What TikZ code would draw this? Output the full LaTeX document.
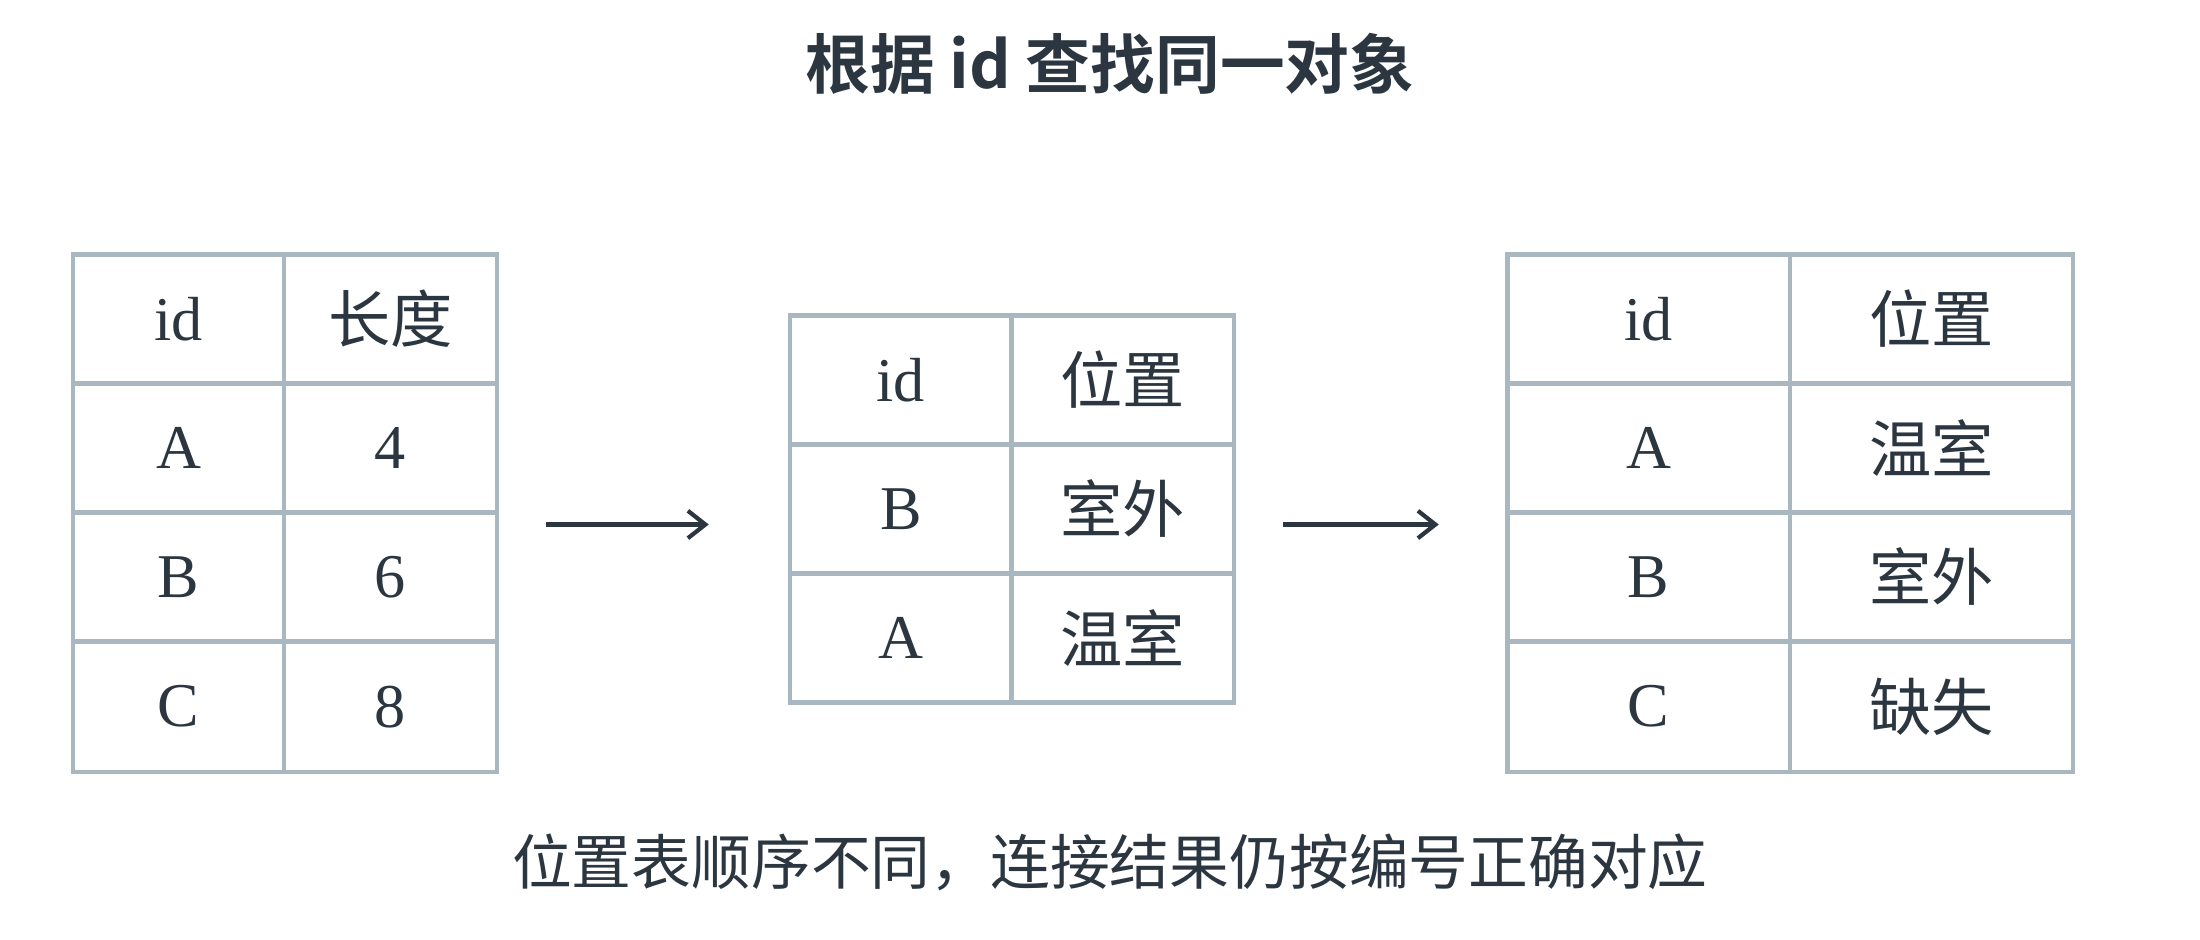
\documentclass[tikz,border=0pt]{standalone}
\usepackage{fontspec}
\setmainfont{Liberation Serif}
\newfontfamily\cjk{Noto Sans CJK SC}
\newfontfamily\cjkb{Noto Sans CJK SC Bold}
\usetikzlibrary{arrows.meta}
\definecolor{ink}{HTML}{2B3640}
\definecolor{grid}{HTML}{A9B8C0}
\begin{document}
\begin{tikzpicture}[x=0.02cm,y=-0.02cm,
  cell/.style={draw=grid,line width=1.7pt,text=ink,inner sep=0pt,font=\fontsize{25}{25}\selectfont,anchor=north west},
  arr/.style={draw=ink,line width=1.7pt,-{Straight Barb[length=7pt,width=11pt]}}]
\useasboundingbox (0,0) rectangle (1552,663);
\newcommand\tcell[6]{\node[cell,minimum width=#4*0.02cm,minimum height=#5*0.02cm] (#1) at (#2,#3) {#6};}
% table 1
\tcell{t1a}{50}{178}{149}{91}{id}
\tcell{t1b}{199}{178}{150}{91}{\cjk 长度}
\tcell{t1c}{50}{269}{149}{91}{A}
\tcell{t1d}{199}{269}{150}{91}{4}
\tcell{t1e}{50}{360}{149}{91}{B}
\tcell{t1f}{199}{360}{150}{91}{6}
\tcell{t1g}{50}{451}{149}{92}{C}
\tcell{t1h}{199}{451}{150}{92}{8}
% table 2
\tcell{t2a}{556}{221}{156}{91}{id}
\tcell{t2b}{712}{221}{157}{91}{\cjk 位置}
\tcell{t2c}{556}{312}{156}{91}{B}
\tcell{t2d}{712}{312}{157}{91}{\cjk 室外}
\tcell{t2e}{556}{403}{156}{91}{A}
\tcell{t2f}{712}{403}{157}{91}{\cjk 温室}
% table 3
\tcell{t3a}{1062}{178}{199}{91}{id}
\tcell{t3b}{1261}{178}{200}{91}{\cjk 位置}
\tcell{t3c}{1062}{269}{199}{91}{A}
\tcell{t3d}{1261}{269}{200}{91}{\cjk 温室}
\tcell{t3e}{1062}{360}{199}{91}{B}
\tcell{t3f}{1261}{360}{200}{91}{\cjk 室外}
\tcell{t3g}{1062}{451}{199}{92}{C}
\tcell{t3h}{1261}{451}{200}{92}{\cjk 缺失}
% arrows
\coordinate (a1s) at (385,370); \coordinate (a1e) at (500,370);
\coordinate (a2s) at (905,370); \coordinate (a2e) at (1015,370);
\draw[arr] (a1s) -- (a1e);
\draw[arr] (a2s) -- (a2e);
% title & caption
\node[text=ink,font=\cjkb\fontsize{26}{26}\selectfont] (title) at (783,45) {根据 id 查找同一对象};
\node[text=ink,font=\cjk\fontsize{24}{24}\selectfont] (cap) at (783,608) {位置表顺序不同，连接结果仍按编号正确对应};
\end{tikzpicture}
\end{document}
